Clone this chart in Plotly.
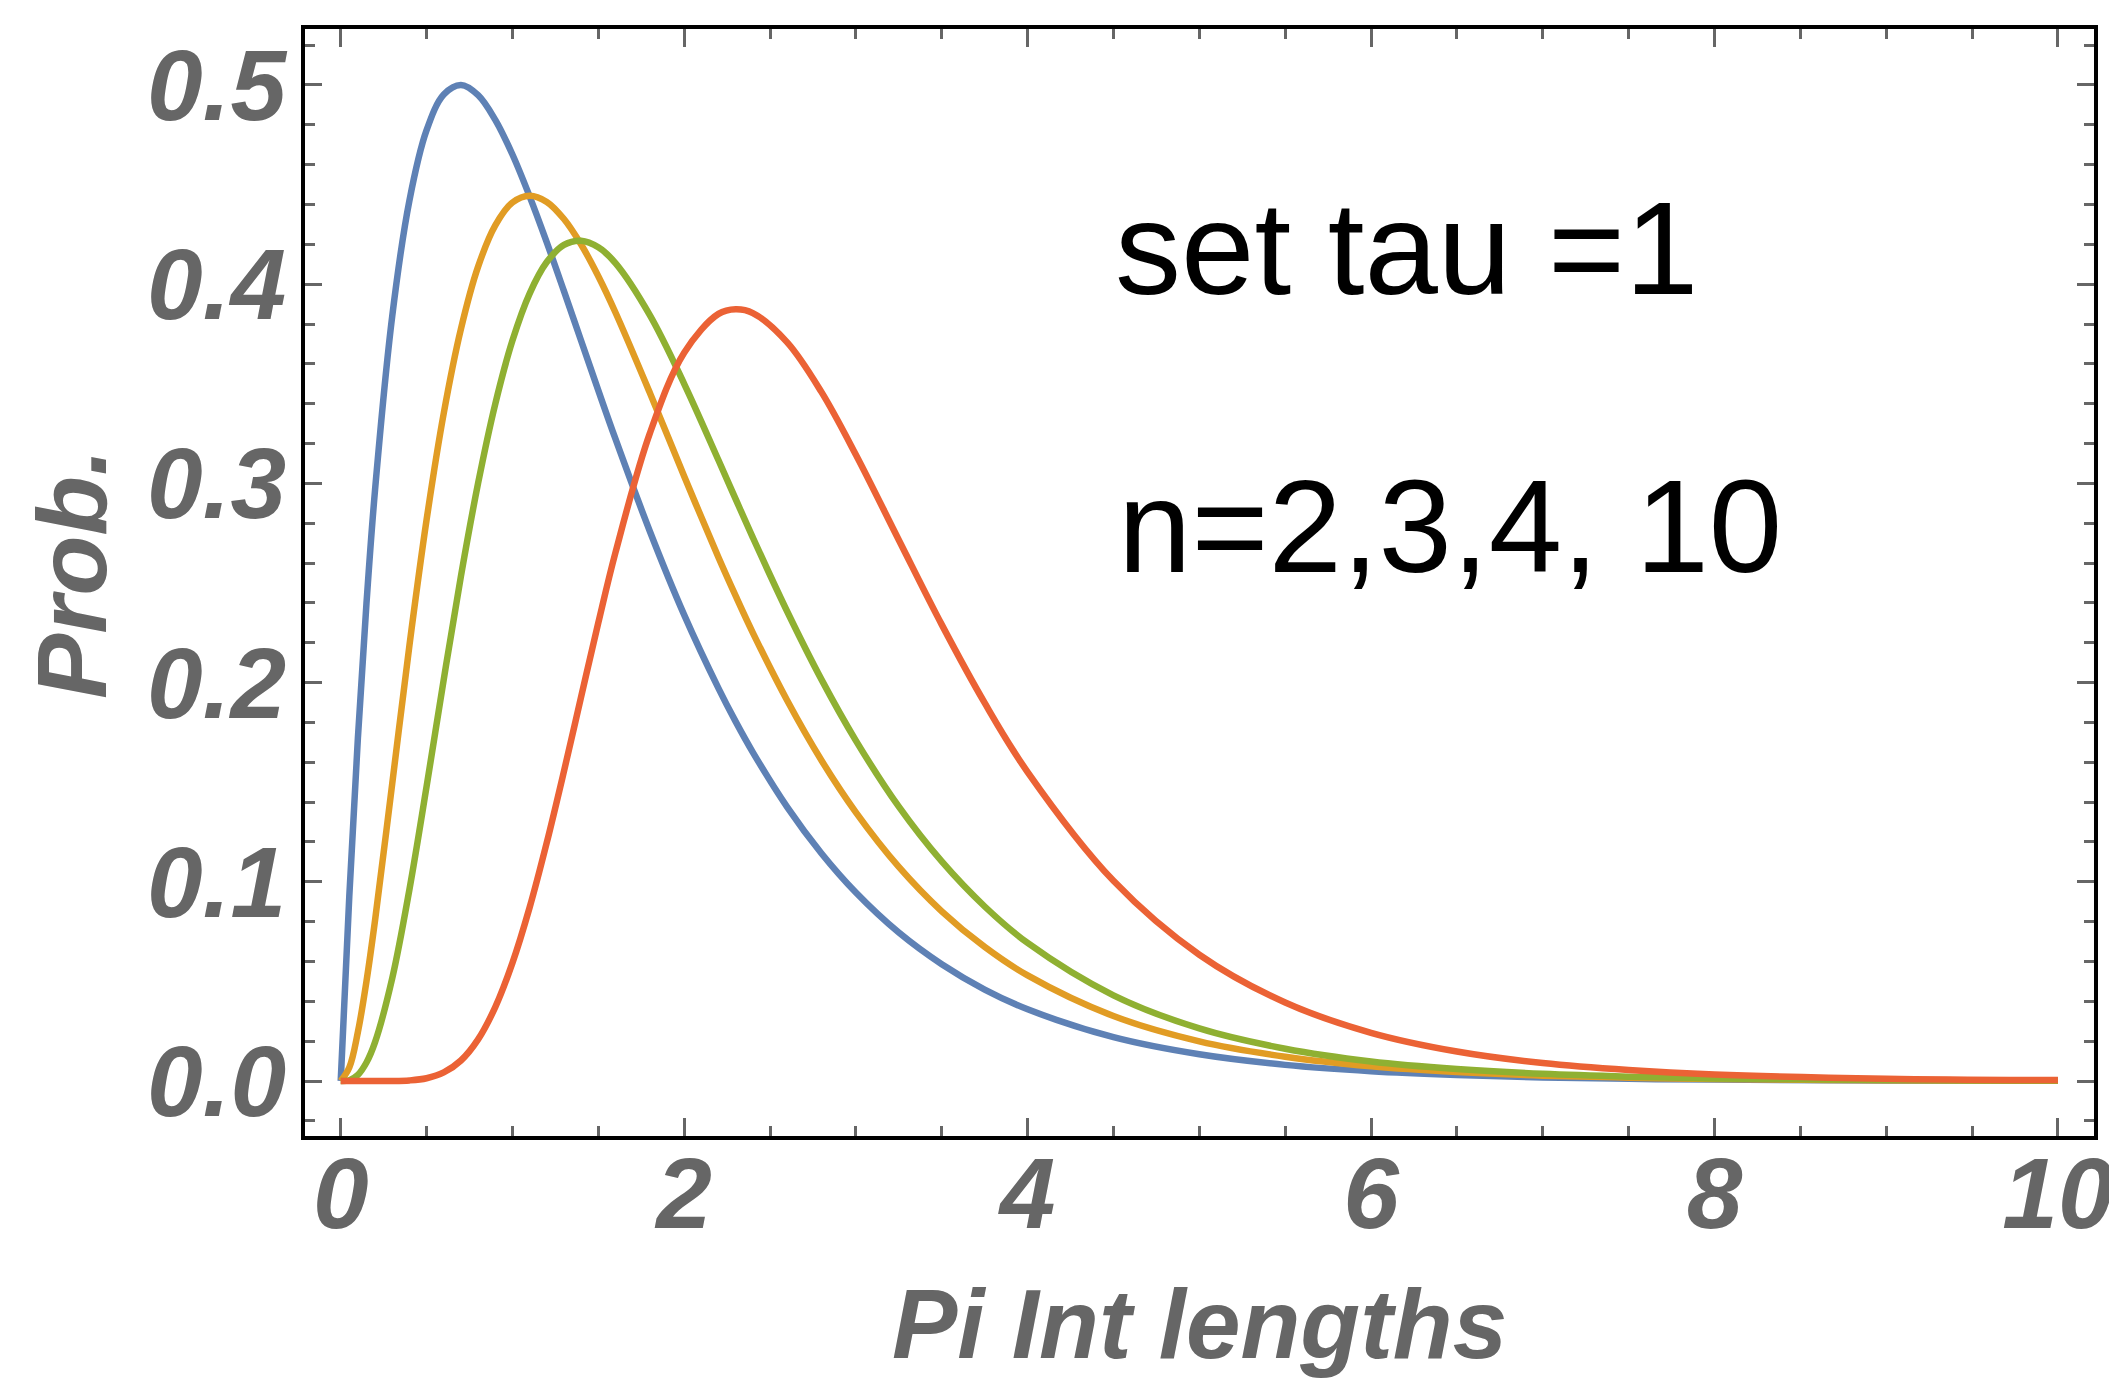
import plotly.graph_objects as go

# x positions (Pi Int lengths) and probability values
x_vals = [0, 0.05, 0.1, 0.15, 0.2, 0.3, 0.4, 0.5, 0.6, 0.7, 0.8, 0.9, 1.0, 1.1, 1.2, 1.3,
          1.4, 1.5, 1.6, 1.8, 2.0, 2.2, 2.3, 2.4, 2.6, 2.8, 3.0, 3.25, 3.5, 3.75, 4.0,
          4.5, 5.0, 5.5, 6.0, 6.5, 7.0, 7.5, 8.0, 9.0, 10.0]

prob_n2 = [0, 0.0928, 0.1722, 0.2398, 0.2968, 0.3840, 0.4420, 0.4773, 0.4952, 0.5000,
           0.4949, 0.4825, 0.4651, 0.4441, 0.4210, 0.3965, 0.3716, 0.3467, 0.3223,
           0.2760, 0.2340, 0.1971, 0.1804, 0.1650, 0.1375, 0.1142, 0.0946, 0.0745,
           0.0586, 0.0459, 0.0360, 0.0220, 0.0134, 0.0081, 0.0049, 0.0030, 0.0018,
           0.0011, 0.0007, 0.0002, 0.0001]

prob_n3 = [0, 0.0068, 0.0246, 0.0501, 0.0807, 0.1493, 0.2186, 0.2817, 0.3352, 0.3775,
           0.4088, 0.4295, 0.4410, 0.4444, 0.4413, 0.4327, 0.4199, 0.4040, 0.3858,
           0.3455, 0.3036, 0.2628, 0.2435, 0.2250, 0.1910, 0.1609, 0.1349, 0.1075,
           0.0852, 0.0673, 0.0530, 0.0326, 0.0199, 0.0122, 0.0074, 0.0045, 0.0027,
           0.0017, 0.0010, 0.0004, 0.0001]

prob_n4 = [0, 0.0004, 0.0031, 0.0093, 0.0195, 0.0516, 0.0961, 0.1478, 0.2016, 0.2534,
           0.3001, 0.3399, 0.3717, 0.3953, 0.4111, 0.4197, 0.4218, 0.4185, 0.4106,
           0.3845, 0.3500, 0.3116, 0.2921, 0.2728, 0.2357, 0.2015, 0.1709, 0.1377,
           0.1102, 0.0876, 0.0693, 0.0430, 0.0264, 0.0162, 0.0098, 0.0060, 0.0036,
           0.0022, 0.0013, 0.0005, 0.0002]

prob_n10 = [0, 0, 0, 0, 0, 0.0000, 0.0003, 0.0014, 0.0043, 0.0103, 0.0209, 0.0371,
            0.0593, 0.0871, 0.1197, 0.1555, 0.1929, 0.2300, 0.2653, 0.3251, 0.3656,
            0.3851, 0.3874, 0.3855, 0.3708, 0.3458, 0.3144, 0.2716, 0.2291, 0.1898,
            0.1551, 0.1005, 0.0634, 0.0394, 0.0242, 0.0148, 0.0090, 0.0055, 0.0033,
            0.0012, 0.0005]

series_names = ["n=2", "n=3", "n=4", "n=10"]
series_values = [prob_n2, prob_n3, prob_n4, prob_n10]
series_colors = ["#5E81B5", "#E19C24", "#8FB032", "#EB6235"]

x_tick_vals = [0, 2, 4, 6, 8, 10]
x_tick_text = ["0", "2", "4", "6", "8", "10"]
y_tick_vals = [0.0, 0.1, 0.2, 0.3, 0.4, 0.5]
y_tick_text = ["0.0", "0.1", "0.2", "0.3", "0.4", "0.5"]

GRAY = "#666666"
tick_font = dict(family="Liberation Sans, Arial, sans-serif", size=100, color=GRAY,
                 weight="bold", style="italic")
title_font = dict(family="Liberation Sans, Arial, sans-serif", size=98, color=GRAY,
                  weight="bold", style="italic")
note_font = dict(family="Liberation Sans, Arial, sans-serif", size=132, color="black")

fig = go.Figure()
for name, vals, col in zip(series_names, series_values, series_colors):
    fig.add_trace(go.Scatter(x=x_vals, y=vals, mode="lines", name=name,
                             line=dict(color=col, width=6.5, shape="spline", smoothing=1.0)))

axis_common = dict(
    showgrid=False, zeroline=False, showline=True, linecolor="black", linewidth=4,
    mirror="allticks", ticks="inside", tickcolor=GRAY, tickwidth=3,
    tickfont=tick_font,
)

fig.update_xaxes(range=[-0.208, 10.21], tickvals=x_tick_vals, ticktext=x_tick_text,
                 ticklen=18, ticklabelstandoff=-32,
                 minor=dict(dtick=0.5, tick0=0, ticklen=10, tickcolor=GRAY, tickwidth=3,
                            ticks="inside", showgrid=False),
                 **axis_common)
fig.update_yaxes(range=[-0.0276, 0.5281], tickvals=y_tick_vals, ticktext=y_tick_text,
                 ticklen=17, ticklabelstandoff=-5,
                 minor=dict(dtick=0.02, tick0=0, ticklen=10, tickcolor=GRAY, tickwidth=3,
                            ticks="inside", showgrid=False),
                 **axis_common)

fig.add_annotation(text="Pi Int lengths", xref="paper", yref="paper", x=0.5, y=-0.170,
                   xanchor="center", yanchor="middle", showarrow=False, font=title_font)
fig.add_annotation(text="Prob.", xref="paper", yref="paper", x=-0.1306, y=0.508,
                   xanchor="center", yanchor="middle", textangle=-90, showarrow=False,
                   font=title_font)
fig.add_annotation(text="set tau =1", xref="paper", yref="paper", x=0.4514, y=0.8015,
                   xanchor="left", yanchor="middle", showarrow=False, font=note_font)
fig.add_annotation(text="n=2,3,4, 10", xref="paper", yref="paper", x=0.4531, y=0.5506,
                   xanchor="left", yanchor="middle", showarrow=False, font=note_font)

fig.update_layout(
    width=2117, height=1380,
    margin=dict(l=297, r=28, t=21, b=252),
    plot_bgcolor="white", paper_bgcolor="white",
    showlegend=False,
)

fig.write_html("out.html")
